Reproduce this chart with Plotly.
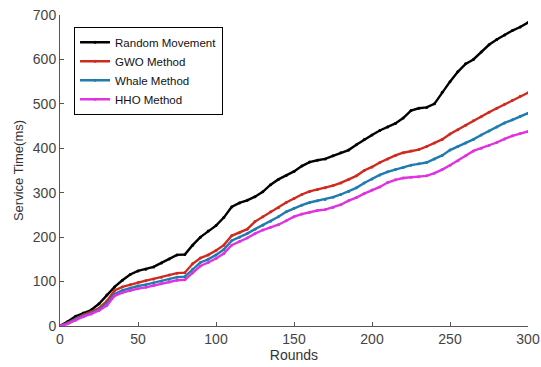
import plotly.graph_objects as go

rounds = list(range(0, 301, 5))

random_movement = [0, 10, 22, 29, 36, 50, 70, 88, 103, 116, 124, 128, 133, 142, 151, 160, 161,
                   182, 200, 214, 226, 244, 268, 277, 283, 291, 302, 318, 330, 339, 348, 360,
                   369, 373, 376, 383, 390, 396, 408, 420, 430, 440, 448, 456, 468, 485, 490,
                   492, 500, 526, 550, 572, 590, 600, 617, 633, 645, 655, 665, 673, 683]

gwo_method = [0, 7, 16, 25, 32, 40, 56, 80, 88, 93, 98, 102, 106, 110, 115, 119, 120, 140, 153,
              160, 170, 182, 203, 210, 218, 235, 246, 257, 266, 278, 287, 296, 303, 307, 311,
              316, 322, 330, 338, 350, 358, 368, 376, 384, 390, 394, 397, 404, 412, 420, 432,
              442, 452, 462, 471, 481, 490, 499, 508, 517, 525]

whale_method = [0, 6, 15, 23, 29, 37, 50, 72, 80, 85, 90, 93, 97, 101, 105, 110, 111, 128, 143,
                150, 160, 172, 192, 200, 208, 218, 227, 236, 246, 257, 265, 272, 278, 282, 285,
                290, 296, 303, 311, 322, 331, 340, 347, 352, 357, 362, 365, 368, 376, 384, 396,
                404, 412, 420, 430, 439, 448, 457, 464, 472, 479]

hho_method = [0, 5, 13, 21, 27, 35, 46, 68, 75, 80, 84, 87, 91, 95, 99, 103, 104, 120, 135,
              143, 152, 163, 182, 190, 198, 208, 216, 222, 228, 237, 246, 252, 256, 260, 262,
              267, 273, 282, 289, 298, 306, 313, 323, 329, 333, 335, 336, 338, 344, 352, 362,
              372, 383, 394, 400, 406, 413, 421, 428, 433, 438]

series_names = ["Random Movement", "GWO Method", "Whale Method", "HHO Method"]
series_values = [random_movement, gwo_method, whale_method, hho_method]
colors = ["#000000", "#d02a1f", "#1f7bb0", "#e032e0"]

x_ticks = [0, 50, 100, 150, 200, 250, 300]
y_ticks = [0, 100, 200, 300, 400, 500, 600, 700]

font_family = "Arial, Liberation Sans, Helvetica, sans-serif"

fig = go.Figure()
for name, vals, col in zip(series_names, series_values, colors):
    fig.add_trace(go.Scatter(
        x=rounds, y=vals, name=name, mode="lines+markers",
        line=dict(color=col, width=2.4),
        marker=dict(color=col, size=3),
    ))

fig.update_layout(
    width=541, height=367,
    margin=dict(l=60, r=13, t=15, b=41),
    paper_bgcolor="white", plot_bgcolor="white",
    font=dict(family=font_family, size=12, color="#333333"),
    showlegend=True,
    legend=dict(
        x=0.03, y=0.962, xanchor="left", yanchor="top",
        bgcolor="white", bordercolor="#000000", borderwidth=1,
        font=dict(family=font_family, size=11.5, color="#111111"),
        tracegroupgap=0, itemwidth=30,
    ),
    xaxis=dict(
        range=[0, 300], tickvals=x_ticks, automargin=False,
        showline=True, linecolor="#555555", linewidth=1, mirror=False,
        ticks="inside", ticklen=4, tickcolor="#555555",
        showgrid=False, zeroline=False, ticklabeloverflow="allow",
        tickfont=dict(size=14, color="#444444"),
        title=dict(text="Rounds", font=dict(size=14, color="#333333"), standoff=3),
    ),
    yaxis=dict(
        range=[0, 700], tickvals=y_ticks, automargin=False,
        showline=True, linecolor="#555555", linewidth=1, mirror=False,
        ticks="inside", ticklen=4, tickcolor="#555555",
        showgrid=False, zeroline=False, ticklabeloverflow="allow",
        tickfont=dict(size=14, color="#444444"),
        title=dict(text="Service Time(ms)", font=dict(size=13, color="#333333"), standoff=6),
    ),
)

fig.write_html("out.html")
